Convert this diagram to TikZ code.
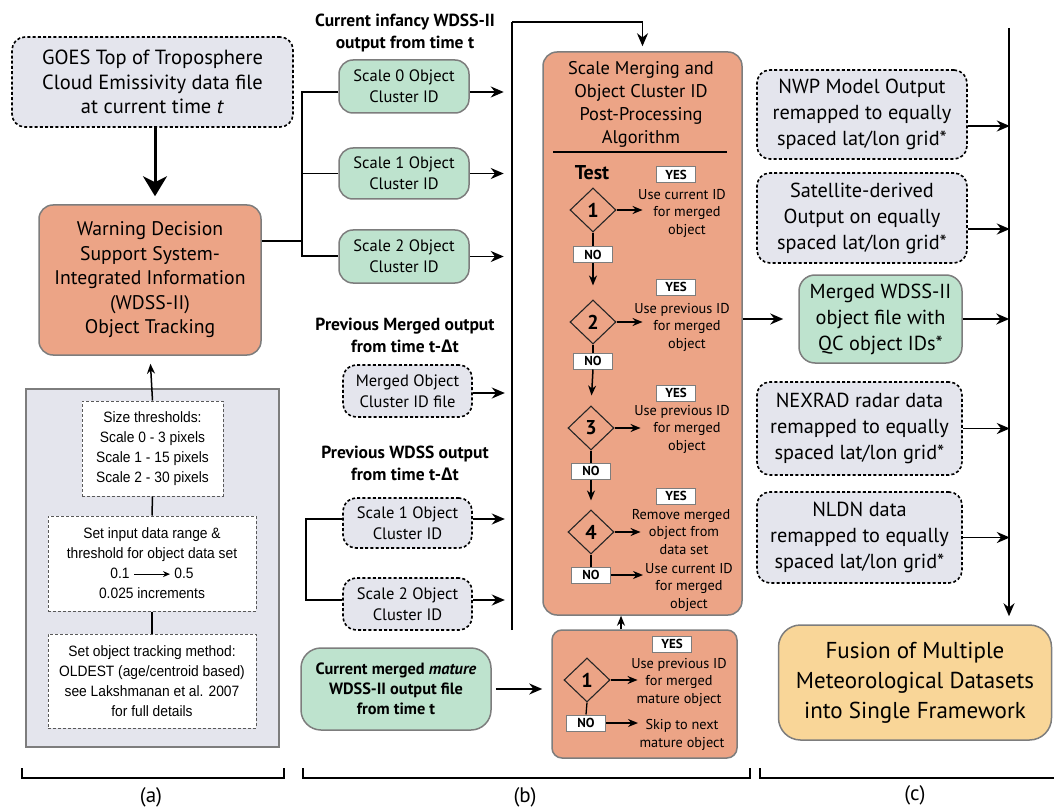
\documentclass[tikz,border=0pt]{standalone}
\usepackage{fontspec}
\setmainfont{PT Sans}
\newfontfamily\arialn{Liberation Sans}[FakeStretch=0.92]
\newfontfamily\grk{Open Sans}
\usetikzlibrary{arrows.meta,shapes.geometric}
\definecolor{orng}{RGB}{236,164,134}
\definecolor{grn}{RGB}{190,227,206}
\definecolor{gry}{RGB}{228,229,237}
\definecolor{tanc}{RGB}{249,214,152}
\definecolor{bord}{RGB}{125,125,125}
\newcommand{\fs}[2]{\fontsize{#1}{#2}\selectfont}
\newcommand{\dlt}{{\grk\bfseries Δ}}
\tikzset{
  arr/.style={-{Stealth[length=13pt,width=11pt]}, line width=1.8pt},
  sarr/.style={-{Stealth[length=10pt,width=8pt]}, line width=1.5pt},
  conn/.style={line width=1.8pt},
  dashbox/.style={draw=black, line width=1.6pt, dash pattern=on 3pt off 2.2pt, fill=gry, rounded corners=13pt, align=center, inner sep=0pt},
  solidbox/.style={draw=bord, line width=1.5pt, rounded corners=14pt, align=center, inner sep=0pt},
  inbox/.style={draw=black!65, fill=white, line width=1pt, dash pattern=on 3pt off 2pt, align=center, inner sep=0pt, font=\arialn\fs{15}{20}},
  ynbox/.style={draw=bord, fill=white, line width=1pt, font=\fs{13}{14}\bfseries, minimum width=39pt, minimum height=16pt, inner sep=0pt},
  dia/.style={diamond, draw=black!85, line width=1.1pt, minimum width=46pt, minimum height=44pt, inner sep=0pt, font=\fs{20}{20}\bfseries},
  ftxt/.style={align=center, inner sep=0pt, font=\fs{14.3}{17.5}},
  hdr/.style={align=center, inner sep=0pt, font=\fs{17.5}{22}\bfseries},
  midtxt/.style={font=\fs{16.5}{21}},
  rtxt/.style={font=\fs{20.3}{26}},
  lbl/.style={inner sep=0pt, font=\fs{21}{21}},
}
\begin{document}
\begin{tikzpicture}[x=1pt,y=-1pt]
\useasboundingbox (0,0) rectangle (1054,810);

% ---------------- (a)
\node[dashbox, font=\fs{20.5}{24.5}, minimum width=281pt, minimum height=90pt] (goes) at (152.5,82)
  {GOES Top of Troposphere\\Cloud Emissivity data file\\at current time \textit{t}};
\node[solidbox, fill=orng, font=\fs{19.7}{24.5}, minimum width=222pt, minimum height=150pt] (wdss) at (150,280)
  {Warning Decision\\Support System-\\Integrated Information\\(WDSS-II)\\Object Tracking};
\draw[-{Stealth[length=20pt,width=24pt,inset=6pt]}, line width=3pt, shorten >=8pt] (goes.south -| 155,0) -- (wdss.north -| 155,0);

\node[draw=bord, fill=gry, line width=1.3pt, minimum width=253pt, minimum height=358pt, inner sep=0pt] (panel) at (152.5,568) {};
\node[inbox, minimum width=141pt, minimum height=95pt] (ib1) at (152.5,448.5)
  {Size thresholds:\\Scale 0 - 3 pixels\\Scale 1 - 15 pixels\\Scale 2 - 30 pixels};
\node[inbox, minimum width=208pt, minimum height=95pt] (ib2) at (152,563.5)
  {Set input data range \&\\threshold for object data set\\0.1 \tikz[baseline=-0.6ex]\draw[-{Stealth[length=7pt,width=6pt]}, line width=1.2pt] (0pt,0pt) -- (36pt,0pt); 0.5\\0.025 increments};
\node[inbox, minimum width=208pt, minimum height=94pt] (ib3) at (152,681)
  {Set object tracking method:\\OLDEST (age/centroid based)\\see Lakshmanan et al. 2007\\for full details};
\draw[line width=1.5pt] (ib1.south) -- (ib2.north);
\draw[line width=1.5pt] (ib2.south) -- (ib3.north);
\draw[sarr, shorten >=8pt] (ib1.north) -- (wdss.south);

% ---------------- (b)
\node[hdr] (h1) at (405,33) {Current infancy WDSS-II\\output from time t};
\node[solidbox, fill=grn, midtxt, minimum width=130pt, minimum height=53pt] (s0) at (404,86.5) {Scale 0 Object\\Cluster ID};
\node[solidbox, fill=grn, midtxt, minimum width=130pt, minimum height=51pt] (s1) at (404,173.5) {Scale 1 Object\\Cluster ID};
\node[solidbox, fill=grn, midtxt, minimum width=130pt, minimum height=53pt] (s2) at (404,256.5) {Scale 2 Object\\Cluster ID};
\coordinate (br) at (302,241);
\coordinate (j0) at (302,92);
\coordinate (j2) at (302,256);
\draw[conn] (wdss.east |- br) -- (br);
\draw[conn] (s0.west |- j0) -- (j0) -- (j2) -- (s2.west |- j2);
\draw[conn] (s1.west) -- (j0 |- s1.west);

\coordinate (busT) at (512,22);
\coordinate (busB) at (512,630);
\draw[arr] ([yshift=-5.5pt]s0.east) -- ++(34pt,0);
\draw[arr] (s1.east) -- ++(34pt,0);
\draw[arr] (s2.east) -- ++(34pt,0);

\node[hdr] (h2) at (405,335) {Previous Merged output\\from time t-\dlt t};
\node[dashbox, midtxt, minimum width=129pt, minimum height=52pt] (mo) at (407.5,391) {Merged Object\\Cluster ID file};
\draw[arr] ([yshift=-2pt]mo.east) -- ++(32pt,0);

\node[hdr] (h3) at (405,463.5) {Previous WDSS output\\from time t-\dlt t};
\node[dashbox, midtxt, minimum width=129pt, minimum height=50pt] (p1) at (407.5,523) {Scale 1 Object\\Cluster ID};
\node[dashbox, midtxt, minimum width=129pt, minimum height=52pt] (p2) at (407.5,604) {Scale 2 Object\\Cluster ID};
\draw[arr] ([yshift=4pt]p1.east) -- ++(32pt,0);
\draw[arr] ([yshift=4pt]p2.east) -- ++(32pt,0);
\draw[conn] ([yshift=4pt]p1.west) -- ++(-36pt,0) |- ([yshift=4pt]p2.west);

\node[solidbox, fill=grn, font=\fs{16.3}{20}\bfseries, minimum width=190pt, minimum height=82pt, rounded corners=20pt] (mat) at (396,689)
  {Current merged \textit{mature}\\WDSS-II output file\\from time t};

% big algorithm box
\node[solidbox, fill=orng, minimum width=199pt, minimum height=563pt] (big) at (642.5,333.5) {};
\draw[conn] (busB) -- (busT);
\draw[arr, shorten >=5pt] (busT) -| (big.north);
\node[align=center, inner sep=0pt, font=\fs{18.4}{23}] (title) at (641,104)
  {Scale Merging and\\Object Cluster ID\\Post-Processing\\Algorithm};
\draw[line width=1.1pt] (553,152) -- (727,152);
\node[inner sep=0pt, font=\fs{20}{20}\bfseries] (test) at (592,173) {Test};

\node[dia] (d1) at (593,210) {1};
\node[dia] (d2) at (593,322) {2};
\node[dia] (d3) at (591,428) {3};
\node[dia] (d4) at (591,532) {4};
\node[ynbox] (n1) at (593,255) {NO};
\node[ynbox] (n2) at (593,361) {NO};
\node[ynbox] (n3) at (591,471) {NO};
\node[ynbox] (n4) at (591,575) {NO};
\node[ynbox] (y1) at (676,175) {YES};
\node[ynbox] (y2) at (676,287) {YES};
\node[ynbox] (y3) at (676,393) {YES};
\node[ynbox] (y4) at (676,496) {YES};
\node[ftxt] (t1) at (682,213) {Use current ID\\\hspace*{10pt}for merged\\\hspace*{10pt}object};
\node[ftxt] (t2) at (682,327) {Use previous ID\\\hspace*{10pt}for merged\\\hspace*{10pt}object};
\node[ftxt] (t3) at (682,429) {Use previous ID\\\hspace*{10pt}for merged\\\hspace*{10pt}object};
\node[ftxt] (t4) at (681,532) {Remove merged\\\hspace*{6pt}object from\\\hspace*{6pt}data set};
\node[ftxt] (t5) at (689,587) {Use current ID\\for merged\\object};

\draw[sarr] (d1.east) -- ++(26pt,0);
\draw[sarr] (d2.east) -- ++(26pt,0);
\draw[sarr] (d3.east) -- ++(26pt,0);
\draw[sarr] (d4.east) -- ++(26pt,0);
\draw[sarr] (n4.east) -- ++(32pt,0);
\draw[line width=1.3pt] (d1.south) -- (n1.north);
\draw[line width=1.3pt] (d2.south) -- (n2.north);
\draw[line width=1.3pt] (d3.south) -- (n3.north);
\draw[line width=1.3pt] (d4.south) -- (n4.north);
\draw[sarr, shorten >=14pt] (n1.south) -- (d2.north);
\draw[sarr, shorten >=10pt] (n2.south) -- (d3.north);
\draw[sarr, shorten >=9pt] (n3.south) -- (d4.north);

% lower box
\node[solidbox, fill=orng, minimum width=185pt, minimum height=128pt, rounded corners=10pt] (lb) at (644.5,694) {};
\coordinate (upx) at (621,0);
\draw[sarr] (upx |- lb.north) -- (upx |- big.south);
\draw[arr, shorten <=4pt, shorten >=9pt] (mat.east) -- (lb.west |- mat.east);
\node[ynbox] (ly) at (672,644) {YES};
\node[dia] (ld) at (587,680) {1};
\node[ynbox] (ln) at (586,723) {NO};
\draw[line width=1.3pt] (ld.south) -- (ln.north);
\draw[sarr] (ld.east) -- ++(27pt,0);
\draw[sarr] (ln.east) -- ++(32pt,0);
\node[ftxt] (lt1) at (679,682) {Use previous ID\\for merged\\mature object};
\node[ftxt] (lt2) at (682,735) {Skip to next\\mature object};

% ---------------- (c)
\coordinate (rT) at (1009,28);
\node[dashbox, rtxt, minimum width=210pt, minimum height=89pt] (nwp) at (862,114.5) {NWP Model Output\\remapped to equally\\spaced lat/lon grid*};
\node[dashbox, rtxt, minimum width=210pt, minimum height=90pt] (sat) at (862,218) {Satellite-derived\\Output on equally\\spaced lat/lon grid*};
\node[solidbox, fill=grn, rtxt, minimum width=163pt, minimum height=88pt, rounded corners=16pt] (mg) at (880.5,319) {Merged WDSS-II\\object file with\\QC object IDs*};
\node[dashbox, rtxt, minimum width=205pt, minimum height=93pt] (nex) at (859.5,428.5) {NEXRAD radar data\\remapped to equally\\spaced lat/lon grid*};
\node[dashbox, rtxt, minimum width=205pt, minimum height=91pt] (nldn) at (859.5,537.5) {NLDN data\\remapped to equally\\spaced lat/lon grid*};
\node[solidbox, fill=tanc, font=\fs{23}{30}, minimum width=273pt, minimum height=115pt, rounded corners=22pt] (fus) at (915,682.5) {Fusion of Multiple\\Meteorological Datasets\\into Single Framework};

\draw[arr, shorten >=8pt] (rT) -- (rT |- fus.north);
\draw[arr] ([yshift=-11.5pt]nwp.east) -- ++(42pt,0);
\draw[arr] ([yshift=-11pt]sat.east) -- ++(42pt,0);
\draw[arr] (mg.east) -- ++(46.5pt,0);
\draw[arr] (nex.east) -- ++(47pt,0);
\draw[arr] (nldn.east) -- ++(47pt,0);
\draw[arr, shorten >=15pt] (big.east |- mg.west) -- (mg.west);

% ---------------- brackets
\draw[line width=1.3pt] (22,768) -- (22,778) -- (284,778) -- (284,768);
\draw[line width=1.3pt] (303,768) -- (303,778) -- (750,778) -- (750,768);
\draw[line width=1.3pt] (760,768) -- (760,778) -- (1054,778);
\node[lbl] (la) at (151,797) {(a)};
\node[lbl] (lbb) at (525,797) {(b)};
\node[lbl] (lc) at (915,795) {(c)};
\end{tikzpicture}
\end{document}
